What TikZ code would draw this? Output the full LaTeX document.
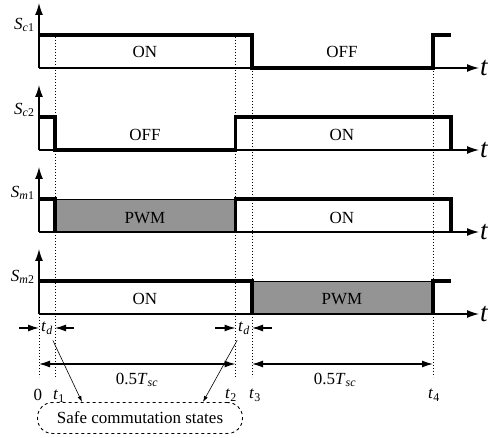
\documentclass[tikz,border=0pt]{standalone}
\usepackage{fontspec}
\setmainfont{Liberation Serif}
\usetikzlibrary{arrows.meta}

\begin{document}
\begin{tikzpicture}[x=1pt,y=1pt,font=\fontsize{17}{20}\selectfont,
  wave/.style={line width=3.6pt,line join=miter},
  box/.style={line width=0.9pt},
  axis/.style={line width=1.3pt,-{Latex[length=12pt,width=8pt]}},
  guide/.style={dotted,line width=1pt},
  dim/.style={line width=1.3pt,-{Latex[length=11pt,width=7pt]}},
  span/.style={line width=1.3pt,{Latex[length=11pt,width=7pt]}-{Latex[length=11pt,width=7pt]}},
  pointer/.style={line width=0.6pt,-{Latex[length=6pt,width=4pt]}},
  pwm/.style={fill=black!42},
  tlabel/.style={anchor=west,inner sep=1pt,font=\fontsize{27}{28}\selectfont\itshape}]
\useasboundingbox (0,0) rectangle (491,438);
% dotted time marks
\draw[guide] (55,401)--(55,61);
\draw[guide] (235.5,401)--(235.5,61);
\draw[guide] (252,370)--(252,61);
\draw[guide] (433,370)--(433,61);
\draw[guide] (39,124)--(39,61);
% S_c1
\begin{scope}[shift={(0,370)}]
\draw[box] (39,0) rectangle (252,33);
\draw[wave] (39,33)--(252,33)--(252,0)--(433,0)--(433,33)--(451,33);
\draw[axis] (39,0)--(39,65);
\draw[axis] (39,0)--(479,0);
\node[anchor=east] (sc1) at (38,43) {\textit{S}\textsubscript{\textit{c}1}};
\node[tlabel] (tc1) at (479,0) {t};
\node (on1) at (145,16) {ON};
\node (off1) at (342,16) {OFF};
\end{scope}
% S_c2
\begin{scope}[shift={(0,288)}]
\draw[box] (39,0) rectangle (55,33);
\draw[box] (235.5,0) rectangle (451,33);
\draw[wave] (39,33)--(55,33)--(55,0)--(235.5,0)--(235.5,33)--(451,33)--(451,0);
\draw[axis] (39,0)--(39,65);
\draw[axis] (39,0)--(479,0);
\node[anchor=east] (sc2) at (38,40) {\textit{S}\textsubscript{\textit{c}2}};
\node[tlabel] (tc2) at (479,0) {t};
\node (off2) at (145,15) {OFF};
\node (on2) at (342,15) {ON};
\end{scope}
% S_m1
\begin{scope}[shift={(0,206)}]
\draw[box] (39,0) rectangle (55,33);
\draw[pwm] (55,0) rectangle (235.5,33);
\draw[box] (235.5,0) rectangle (451,33);
\draw[wave] (39,33)--(55,33)--(55,0);
\draw[wave] (235.5,0)--(235.5,33)--(451,33)--(451,0);
\draw[axis] (39,0)--(39,65);
\draw[axis] (39,0)--(479,0);
\node[anchor=east] (sm1) at (38,39) {\textit{S}\textsubscript{\textit{m}1}};
\node[tlabel] (tm1) at (479,0) {t};
\node (pwm1) at (145,14) {PWM};
\node (on3) at (342,14) {ON};
\end{scope}
% S_m2
\begin{scope}[shift={(0,124)}]
\draw[box] (39,0) rectangle (252,33);
\draw[pwm] (252,0) rectangle (433,33);
\draw[wave] (39,33)--(252,33)--(252,0);
\draw[wave] (433,0)--(433,33)--(451,33);
\draw[axis] (39,0)--(39,65);
\draw[axis] (39,0)--(479,0);
\node[anchor=east] (sm2) at (38,37) {\textit{S}\textsubscript{\textit{m}2}};
\node[tlabel] (tm2) at (479,0) {t};
\node (on4) at (145,15) {ON};
\node (pwm2) at (342,15) {PWM};
\end{scope}
% dead times and half periods
\node (td1) at (47,110) {\textit{t}\textsubscript{\textit{d}}};
\node (td2) at (244,110) {\textit{t}\textsubscript{\textit{d}}};
\draw[dim] (19,110)--(39,110);
\draw[dim] (74,110)--(55,110);
\draw[dim] (215,110)--(235.5,110);
\draw[dim] (272,110)--(252,110);
\draw[span] (39,74)--(235.5,74);
\draw[span] (252,74)--(433,74);
\node (half1) at (137,58) {0.5\textit{T}\textsubscript{\textit{sc}}};
\node (half2) at (335,58) {0.5\textit{T}\textsubscript{\textit{sc}}};
\node (t0) at (38,43) {0};
\node (t1) at (59,42) {\textit{t}\textsubscript{1}};
\node (t2) at (231,43) {\textit{t}\textsubscript{2}};
\node (t3) at (255,43) {\textit{t}\textsubscript{3}};
\node (t4) at (434,43) {\textit{t}\textsubscript{4}};
% safe states
\node[draw,dashed,line width=0.9pt,rounded corners=15pt,minimum width=205pt,minimum height=31pt] (safe) at (140,20) {Safe commutation states};
\coordinate (safeL) at (82,36);
\coordinate (safeR) at (203,36);
\draw[pointer,shorten <=3pt] (td1)--(safeL);
\draw[pointer,shorten <=3pt] (td2)--(safeR);
\end{tikzpicture}
\end{document}
